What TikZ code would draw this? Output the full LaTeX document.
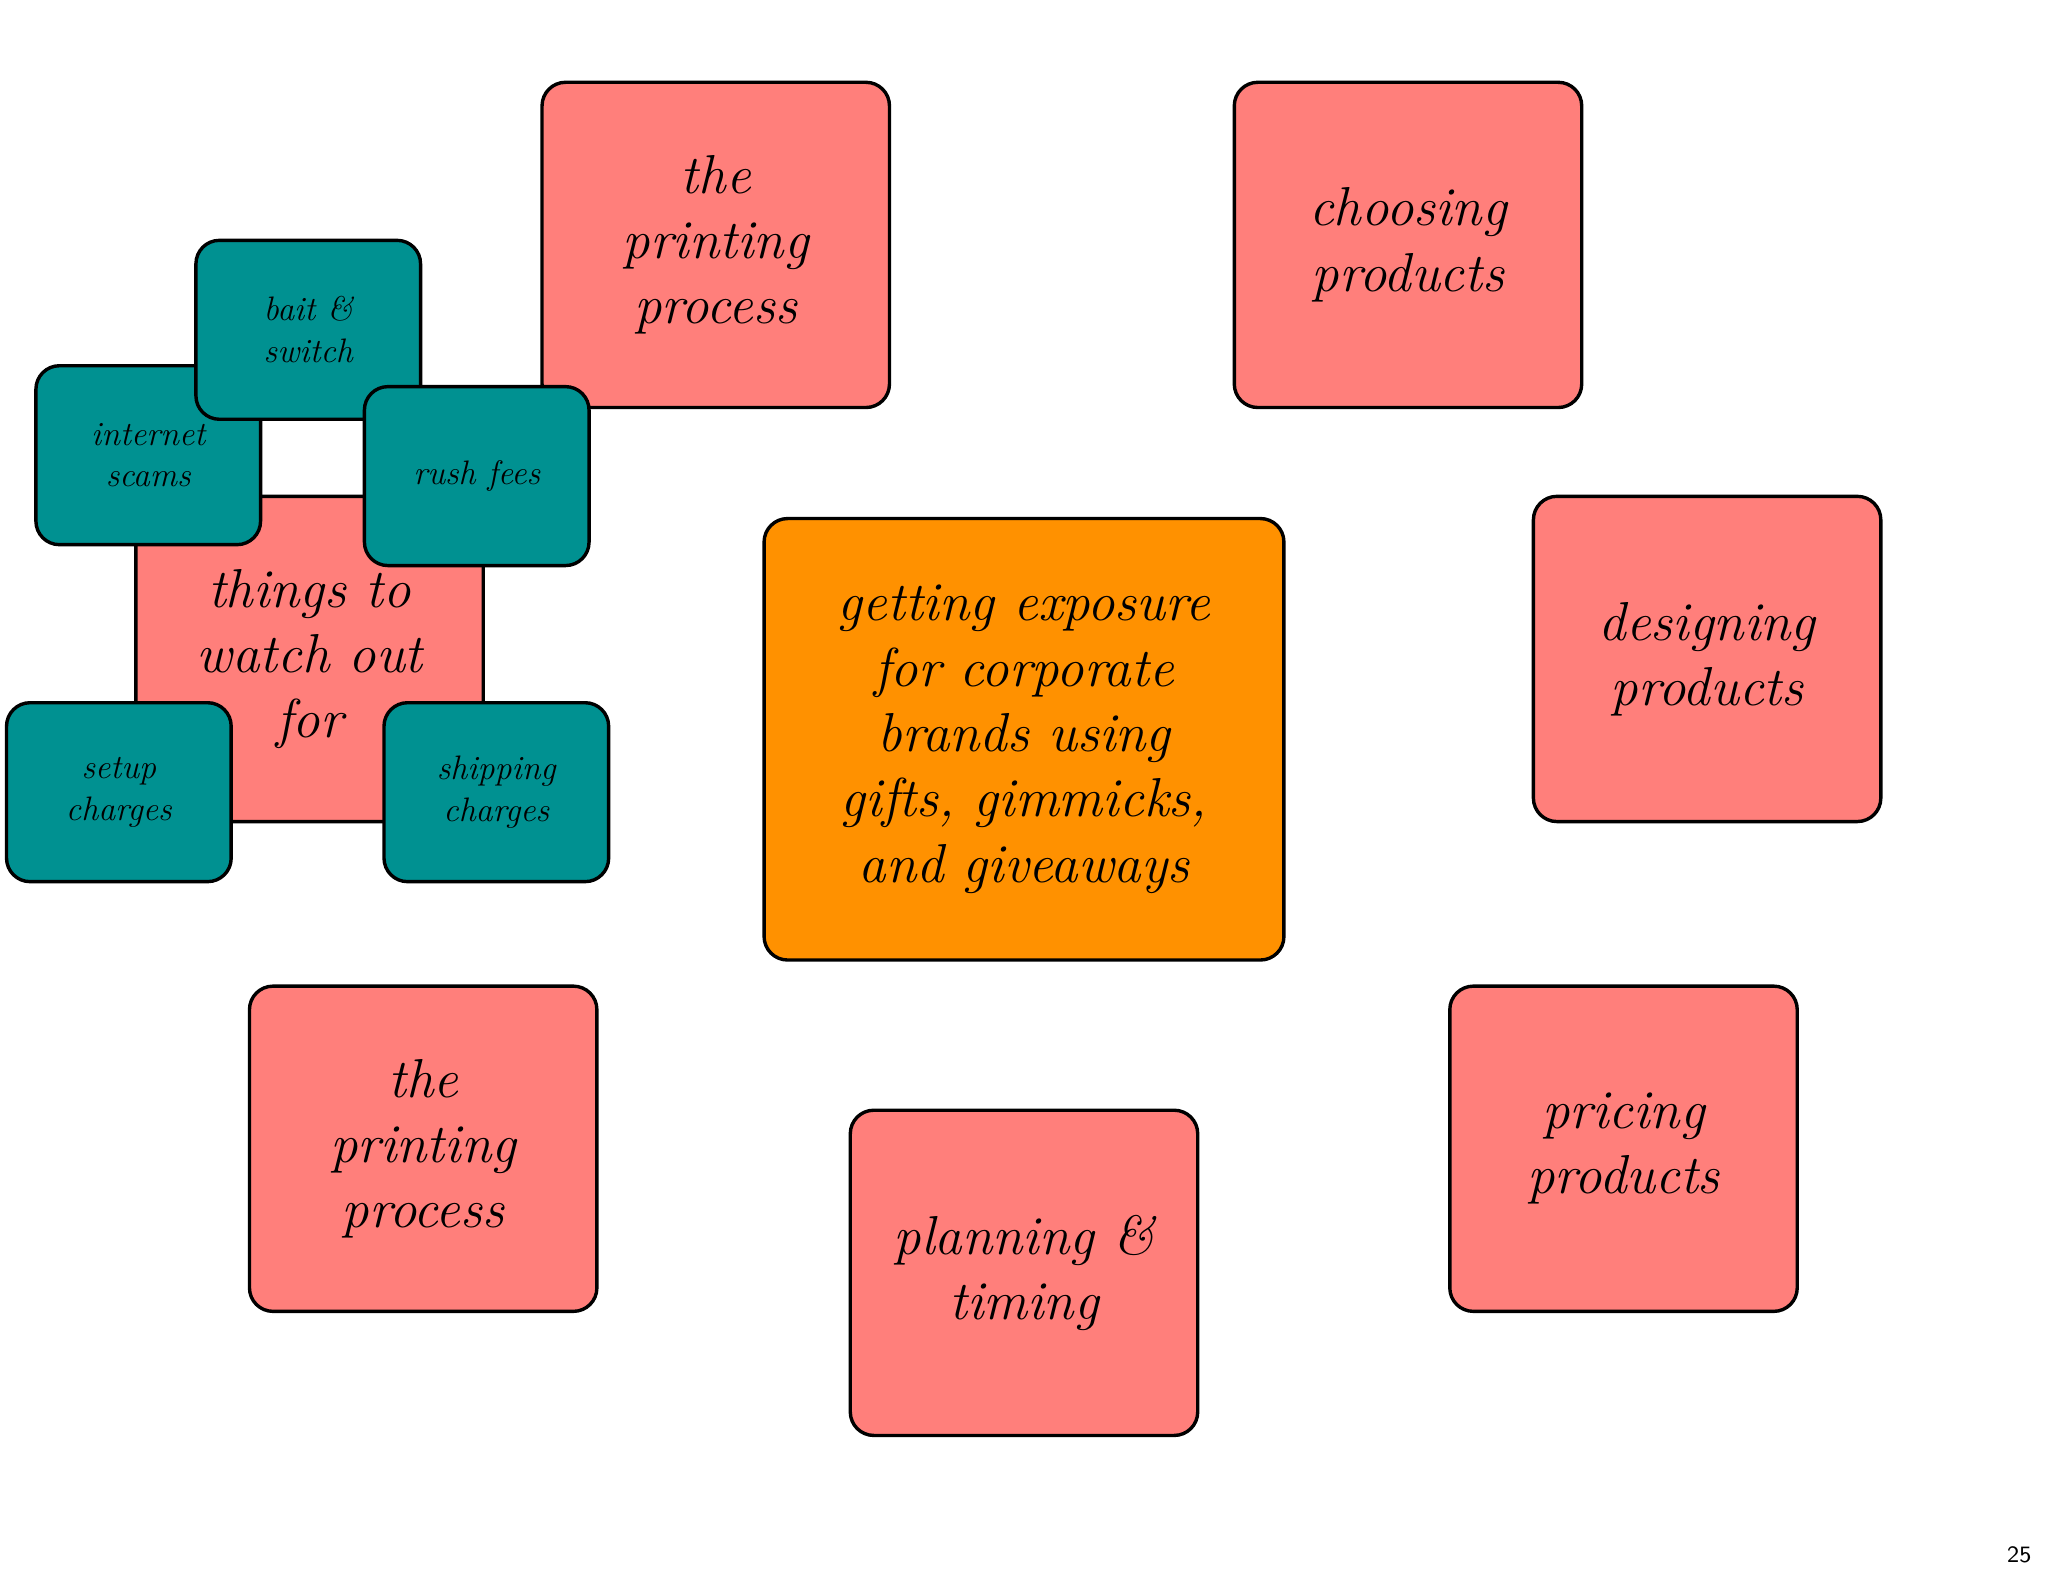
\documentclass[tikz,border=0pt]{standalone}
\begin{document}
\begin{tikzpicture}[x=0.5pt,y=-0.5pt,
  box/.style={draw=black,line width=1.3pt,rounded corners=9pt,align=center,inner sep=2pt,font=\itshape\fontsize{21}{25}\selectfont},
  pink/.style={box,fill=salmon,minimum width=133pt,minimum height=124.5pt},
  teal/.style={box,fill=tealc,minimum width=86pt,minimum height=68.5pt,font=\itshape\fontsize{13}{16}\selectfont}]
\definecolor{salmon}{HTML}{FF7F7B}
\definecolor{orangec}{HTML}{FF9100}
\definecolor{tealc}{HTML}{009191}
\fill[white] (0,0) rectangle (1568,1206);
\node[pink] (p1) at (548,187.5) {the\\printing\\process};
\node[pink] (cp) at (1078,187.5) {choosing\\products};
\node[pink] (tw) at (237,504.5) {things to\\watch out\\for};
\node[box,fill=orangec,minimum width=199pt,minimum height=169pt] (c) at (784,566) {getting exposure\\for corporate\\brands using\\gifts, gimmicks,\\and giveaways};
\node[pink] (dp) at (1307,504.5) {designing\\products};
\node[pink] (p2) at (324,879.5) {the\\printing\\process};
\node[pink] (pt) at (784,974.5) {planning \&\\timing};
\node[pink] (pp) at (1243,879.5) {pricing\\products};
\node[teal] (is) at (113.5,348.5) {internet\\scams};
\node[teal] (bs) at (236,252.5) {bait \&\\switch};
\node[teal] (rf) at (365,364.5) {rush fees};
\node[teal] (sc) at (91,606.5) {setup\\charges};
\node[teal] (sh) at (380,606.5) {shipping\\charges};
\node[font=\sffamily\fontsize{9}{10}\selectfont] (n) at (1546,1190) {25};
\end{tikzpicture}
\end{document}
